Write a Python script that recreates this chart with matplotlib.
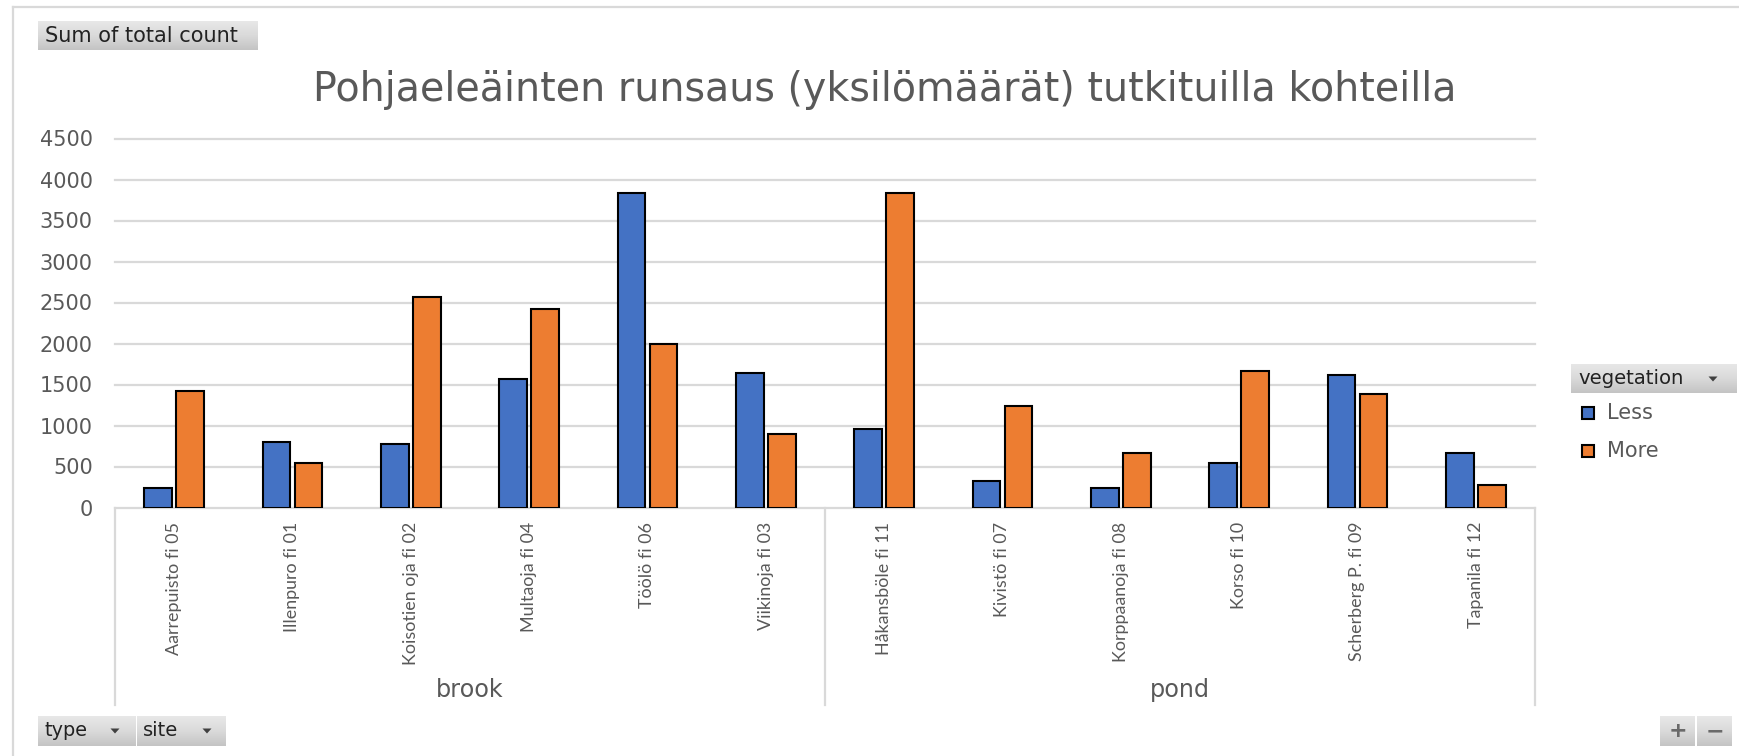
import numpy as np
import matplotlib
matplotlib.use("Agg")
import matplotlib.pyplot as plt
from matplotlib.colors import LinearSegmentedColormap
from matplotlib.patches import Rectangle, Polygon
from matplotlib.lines import Line2D
import matplotlib.transforms as mtransforms

# ---------------- data ----------------
sites = ["Aarrepuisto fi 05", "Illenpuro fi 01", "Koisotien oja fi 02", "Multaoja fi 04",
         "Töölö fi 06", "Viikinoja fi 03", "Håkansböle fi 11", "Kivistö fi 07",
         "Korppaanoja fi 08", "Korso fi 10", "Scherberg P. fi 09", "Tapanila fi 12"]
types = ["brook"] * 6 + ["pond"] * 6
less = [240, 800, 770, 1570, 3840, 1640, 960, 320, 240, 540, 1610, 660]
more = [1420, 540, 2570, 2420, 1990, 900, 3840, 1240, 670, 1670, 1380, 280]
series_names = ["Less", "More"]
yticks = [0, 500, 1000, 1500, 2000, 2500, 3000, 3500, 4000, 4500]
title = "Pohjaeleäinten runsaus (yksilömäärät) tutkituilla kohteilla"

# ---------------- style ----------------
W, H = 1740, 756
DPI = 100
BLUE = "#4472C4"
ORANGE = "#ED7D31"
GRID = "#D9D9D9"
TXT = "#595959"
BTN_TXT = "#222222"

def fx(x):
    return x / W

def fy(y):
    return 1 - y / H

fig = plt.figure(figsize=(W / DPI, H / DPI), dpi=DPI)
fig.patch.set_facecolor("white")
renderer = fig.canvas.get_renderer()

def fit_width(t, target):
    w = t.get_window_extent(renderer).width
    t.set_fontsize(t.get_fontsize() * target / w)

# plot area
ax_l, ax_r, ax_t, ax_b = 115, 1535, 138.5, 507.5
ax = fig.add_axes([fx(ax_l), fy(ax_b), (ax_r - ax_l) / W, (ax_b - ax_t) / H])
n = len(sites)
x = np.arange(n)
bw = 0.236
off = 0.135
ax.bar(x - off, less, width=bw, color=BLUE, edgecolor="black", linewidth=1.5, zorder=3)
ax.bar(x + off, more, width=bw, color=ORANGE, edgecolor="black", linewidth=1.5, zorder=3)
ax.set_xlim(-0.5, n - 0.5)
ax.set_ylim(0, 4500)
ax.set_yticks(yticks)
ax.set_yticklabels([str(v) for v in yticks], fontsize=15, color=TXT, family="DejaVu Sans")
ax.tick_params(axis="y", length=0, pad=16)
ax.yaxis.grid(True, color=GRID, linewidth=1.6)
for gl in ax.get_ygridlines():
    gl.set_clip_on(False)
ax.set_axisbelow(True)
for s in ax.spines.values():
    s.set_visible(False)
ax.set_xticks(x)
ax.set_xticklabels(sites, rotation=90, color=TXT, family="Lato", fontsize=12)
ax.tick_params(axis="x", length=0, pad=10.4)
ax.patch.set_alpha(0)

# fit category label size
ref_lab = ax.get_xticklabels()[2]
w0 = ref_lab.get_window_extent(renderer).height
newsize = 12 * 142 / w0
for lab in ax.get_xticklabels():
    lab.set_fontsize(newsize)

# group separators and labels
trans = mtransforms.blended_transform_factory(ax.transData, ax.transAxes)
ybot = (ax_b - 705) / (ax_b - ax_t)
bounds = [-0.5]
for i in range(1, n):
    if types[i] != types[i - 1]:
        bounds.append(i - 0.5)
bounds.append(n - 0.5)
for b in bounds:
    ax.add_line(Line2D([b, b], [0, ybot], transform=trans, color=GRID, lw=1.6, clip_on=False))
groups = []
for i, t in enumerate(types):
    if t not in groups:
        groups.append(t)
ygl = (ax_b - 690) / (ax_b - ax_t)
gtexts = []
for gi, g in enumerate(groups):
    cx = (bounds[gi] + bounds[gi + 1]) / 2
    gt = ax.text(cx, ygl, g, transform=trans, ha="center", va="center", color=TXT,
                 family="DejaVu Sans", fontsize=14)
    gtexts.append(gt)
fit_width(gtexts[0], 68)
for gt in gtexts[1:]:
    gt.set_fontsize(gtexts[0].get_fontsize())

# title
tt = fig.text(fx(885), fy(101), title, ha="center", va="baseline", color=TXT,
              family="DejaVu Sans", fontsize=24)
fit_width(tt, 1142)

# outer border
fig.add_artist(Line2D([fx(13), fx(1740)], [fy(7), fy(7)], color=GRID, lw=1.6))
fig.add_artist(Line2D([fx(13), fx(13)], [fy(7), fy(756)], color=GRID, lw=1.6))

# buttons
cm = LinearSegmentedColormap.from_list("btn", ["#E8E8E8", "#DADADA", "#C4C4C4"])
grad = np.linspace(0, 1, 64).reshape(-1, 1)

def button(x0, y0, x1, y1):
    b = fig.add_axes([fx(x0), fy(y1), (x1 - x0) / W, (y1 - y0) / H])
    b.imshow(grad, aspect="auto", cmap=cm, extent=[0, 1, 0, 1])
    b.set_axis_off()
    return b

def tri(cx, cy, w=9, h=5):
    pts = [(fx(cx - w / 2), fy(cy - h / 2)), (fx(cx + w / 2), fy(cy - h / 2)), (fx(cx), fy(cy + h / 2))]
    fig.add_artist(Polygon(pts, closed=True, facecolor="#404040", edgecolor="none"))

def btext(xl, cy, s, width):
    t = fig.text(fx(xl), fy(cy), s, ha="left", va="center", color=BTN_TXT,
                 family="DejaVu Sans", fontsize=12)
    fit_width(t, width)
    return t

button(38, 21, 258, 50)
btext(45, 35.5, "Sum of total count", 192)

button(1571, 364, 1736, 393)
btext(1578, 378.5, "vegetation", 105)
tri(1713, 379)

button(38, 716, 136, 746)
btext(45, 731, "type", 43)
tri(115, 731)
button(137, 716, 226, 746)
btext(143, 731, "site", 35)
tri(207, 731)

button(1660, 716, 1695, 746)
button(1697, 716, 1732, 746)
fig.text(fx(1677.5), fy(731), "+", ha="center", va="center", color="#6A6A6A",
         family="DejaVu Sans", fontweight="bold", fontsize=16)
fig.text(fx(1714.5), fy(731), "−", ha="center", va="center", color="#6A6A6A",
         family="DejaVu Sans", fontweight="bold", fontsize=16)

# legend
for name, col, cy in zip(series_names, [BLUE, ORANGE], [413, 451]):
    fig.add_artist(Rectangle((fx(1582), fy(cy + 6)), 12 / W, 12 / H, facecolor=col,
                             edgecolor="black", linewidth=1.5, transform=fig.transFigure))
    fig.text(fx(1607), fy(cy), name, ha="left", va="center", color=TXT,
             family="DejaVu Sans", fontsize=15)

fig.savefig("out.png", dpi=DPI, facecolor="white")
